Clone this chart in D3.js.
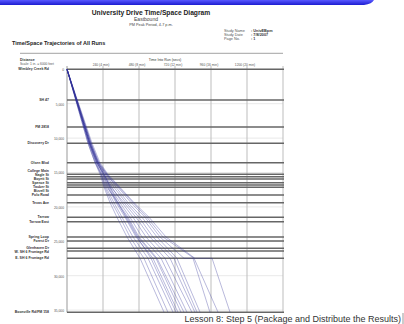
<!DOCTYPE html>
<html><head><meta charset="utf-8">
<script src="https://cdn.jsdelivr.net/npm/d3@7"></script>
<style>html,body{margin:0;padding:0;background:#fff;}svg{display:block;font-family:"Liberation Sans",Arial,sans-serif;}</style>
</head><body><svg id="c" width="404" height="324"></svg>
<script>
// ---- data ----
const streetNames = ["Wimbley Creek Rd","SH 47","FM 2818","Discovery Dr","Olsen Blvd","College Main","Nagle St","Boyett St","Spence St","Tauber St","Bizzell St","Polo Road","Texas Ave","Tarrow","Tarrow East","Spring Loop","Forest Dr","Glenhaven Dr","W. SH 6 Frontage Rd","E. SH 6 Frontage Rd","Boonville Rd/FM 158"];
const streetDist = [0,4460,8390,10750,13580,15260,15610,15950,16480,16820,17150,18270,19390,21510,22150,24375,24960,26020,26410,27470,35320];
const distTicks = [0,5000,10000,15000,20000,25000,30000,35000];
const distTickLabels = ["0","5,000","10,000","15,000","20,000","25,000","30,000","35,000"];
const timeTicks = [240,480,720,960,1200];
const timeTickLabels = ["240 (4 min)","480 (8 min)","720 (12 min)","960 (16 min)","1200 (20 min)"];
// distances (ft) at which each run's time is recorded
const runDist = [0,10750,13580,15260,17150,19390,21510,24375,27470,35320];
// times (s) for each run; a pair = [arrive, depart] (stop)
const run01 = [0,140,187,220,247,287,333,400,487,647];
const run02 = [0,147,193,227,253,300,353,420,513,673];
const run03 = [0,140,187,227,260,313,367,440,540,707];
const run04 = [0,153,200,240,273,327,387,460,573,740];
const run05 = [0,147,193,233,267,340,407,480,600,780];
const run06 = [0,153,207,247,287,353,420,500,627,800];
const run07 = [0,160,207,253,300,367,440,527,653,833];
const run08 = [0,147,200,247,293,380,460,553,687,853];
const run09 = [0,153,207,260,313,393,480,573,713,867];
const run10 = [0,160,213,267,327,407,500,600,733,887];
const run11 = [0,153,207,260,340,427,520,620,[780,840],953];
const run12 = [0,167,220,273,353,447,547,660,[853,967],1087];
const run13 = [0,160,213,267,347,440,533,640,847,1007];
const run14 = [0,153,200,247,287,340,393,467,560,727];
const run15 = [0,147,200,240,280,333,400,473,593,760];
const runs = [run01,run02,run03,run04,run05,run06,run07,run08,run09,run10,run11,run12,run13,run14,run15];

// ---- drawing ----
const svg = d3.select("#c");

// top blue band
const defs = svg.append("defs");
const g1 = defs.append("linearGradient").attr("id","bar").attr("x1",0).attr("y1",0).attr("x2",0).attr("y2",1);
g1.append("stop").attr("offset","0%").attr("stop-color","#5858ff");
g1.append("stop").attr("offset","100%").attr("stop-color","#1c1cd0");
svg.append("path").attr("d","M0,0 H374 Q372,4 364,5 H0 Z").attr("fill","url(#bar)");

// header texts
svg.append("text").attr("x",151).attr("y",15.3).attr("text-anchor","middle").attr("font-size",6.7).attr("font-weight","bold").attr("fill","#222").text("University Drive Time/Space Diagram");
svg.append("text").attr("x",146).attr("y",21).attr("text-anchor","middle").attr("font-size",5).attr("fill","#444").text("Eastbound");
svg.append("text").attr("x",151).attr("y",25.8).attr("text-anchor","middle").attr("font-size",3.8).attr("fill","#444").text("PM Peak Period, 4-7 p.m.");
const info = [["Study Name",": UnivEBpm"],["Study Date",": 7/8/2007"],["Page No.",":  1"]];
info.forEach((d,i)=>{
  svg.append("text").attr("x",224).attr("y",31.5+i*4.2).attr("font-size",3.8).attr("fill","#555").text(d[0]);
  svg.append("text").attr("x",251).attr("y",31.5+i*4.2).attr("font-size",3.8).attr("font-weight","bold").attr("fill","#333").text(d[1]);
});
svg.append("text").attr("x",12).attr("y",44.6).attr("font-size",5.5).attr("font-weight","bold").attr("fill","#222").text("Time/Space Trajectories of All Runs");
svg.append("line").attr("x1",20).attr("x2",283).attr("y1",53.3).attr("y2",53.3).attr("stroke","#999").attr("stroke-width",0.9);
svg.append("text").attr("x",20).attr("y",60.5).attr("font-size",3.5).attr("font-weight","bold").attr("fill","#333").text("Distance");
svg.append("text").attr("x",20).attr("y",64.6).attr("font-size",3.3).attr("fill","#555").text("Scale: 1 in. = 6000 feet");
svg.append("text").attr("x",165).attr("y",60.5).attr("text-anchor","middle").attr("font-size",3.5).attr("fill","#333").text("Time Into Run (secs)");

// scales
const x = d3.scaleLinear().domain([0,1440]).range([67,283]);
const y = d3.scaleLinear().domain([0,35000]).range([69.3,310.1]);
const yMax = y(35320);

// distance gridlines
svg.append("g").selectAll("line").data(distTicks).join("line")
  .attr("x1",67).attr("x2",283).attr("y1",d=>y(d)).attr("y2",d=>y(d))
  .attr("stroke","#e2e2e2").attr("stroke-width",0.8);
// time gridlines
svg.append("g").selectAll("line").data(timeTicks.concat([1440])).join("line")
  .attr("x1",d=>x(d)).attr("x2",d=>x(d)).attr("y1",66).attr("y2",yMax)
  .attr("stroke","#bdbdbd").attr("stroke-width",1);
svg.append("line").attr("x1",x(0)).attr("x2",x(0)).attr("y1",66).attr("y2",yMax).attr("stroke","#999").attr("stroke-width",1);
// time tick labels
svg.append("g").selectAll("text").data(timeTicks).join("text")
  .attr("x",d=>x(d)-2).attr("y",66).attr("text-anchor","middle").attr("font-size",3.3).attr("fill","#555")
  .text((d,i)=>timeTickLabels[i]);
// distance tick labels
svg.append("g").selectAll("text").data(distTicks).join("text")
  .attr("x",64).attr("y",d=>y(d)+1.8).attr("text-anchor","end").attr("font-size",3.3).attr("fill","#555")
  .text((d,i)=>distTickLabels[i]);

// street lines
svg.append("g").selectAll("line").data(streetDist).join("line")
  .attr("x1",67).attr("x2",284).attr("y1",d=>y(d)).attr("y2",d=>y(d))
  .attr("stroke","#666").attr("stroke-width",1.5);

// street labels, dodged so close streets don't collide
const gap = 3.9;
const orig = streetDist.map(d=>y(d)+1.0);
const pos = orig.slice();
const groups = [[0]];
for(let i=1;i<pos.length;i++){
  if(pos[i]-pos[i-1] < gap){ pos[i]=pos[i-1]+gap; groups[groups.length-1].push(i); }
  else groups.push([i]);
}
groups.forEach(g=>{
  const off = d3.mean(g,i=>orig[i]) - d3.mean(g,i=>pos[i]);
  g.forEach(i=>pos[i]+=off);
});
svg.append("g").selectAll("text").data(streetDist).join("text")
  .attr("x",49).attr("y",(d,i)=>pos[i]).attr("text-anchor","end").attr("font-size",3.5).attr("font-weight","bold").attr("fill","#333")
  .text((d,i)=>streetNames[i]);

// trajectories
const line = d3.line().x(p=>x(p[0])).y(p=>y(p[1]));
function pts(r){
  const out=[];
  r.forEach((t,i)=>{
    if(Array.isArray(t)){out.push([t[0],runDist[i]]);out.push([t[1],runDist[i]]);}
    else out.push([t,runDist[i]]);
  });
  return out;
}
svg.append("g").selectAll("path").data(runs).join("path")
  .attr("d",r=>line(pts(r))).attr("fill","none")
  .attr("stroke","#2e2e98").attr("stroke-opacity",0.45).attr("stroke-width",0.75);

// footer
svg.append("text").attr("x",401).attr("y",322).attr("text-anchor","end").attr("font-size",9).attr("fill","#333").text("Lesson 8: Step 5 (Package and Distribute the Results)");
svg.append("line").attr("x1",403).attr("x2",403).attr("y1",313).attr("y2",324).attr("stroke","#999").attr("stroke-width",1);
</script></body></html>
